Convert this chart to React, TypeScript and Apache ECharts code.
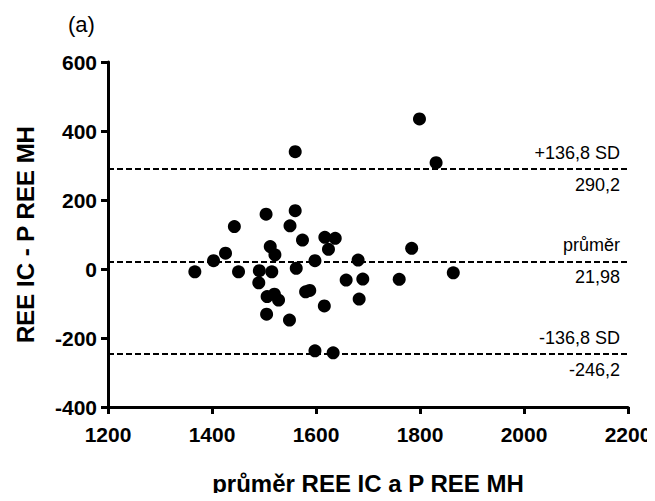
import React, { useEffect, useRef } from "react";
import * as echarts from "echarts";

const meanX: number[] = [
  1367, 1403, 1426, 1443, 1451, 1504, 1560, 1550, 1574, 1512, 1521, 1491, 1515, 1490,
  1562, 1598, 1617, 1637, 1624, 1506, 1520, 1528, 1580, 1588, 1616, 1505, 1549, 1598,
  1633, 1560, 1799, 1831, 1681, 1784, 1864, 1658, 1690, 1760, 1683,
];
const diffY: number[] = [
  -8, 24, 46, 123, -8, 159, 169, 125, 84, 65, 41, -5, -8, -40,
  2, 24, 92, 89, 57, -80, -73, -90, -66, -62, -107, -131, -148, -237,
  -243, 340, 435, 308, 26, 60, -11, -32, -29, -30, -87,
];
const limitValues: number[] = [290.2, 21.98, -246.2];
const limitTopLabels: string[] = ["+136,8 SD", "průměr", "-136,8 SD"];
const limitBottomLabels: string[] = ["290,2", "21,98", "-246,2"];

const FONT = "'Liberation Sans', Arial, sans-serif";

export default function App() {
  const ref = useRef<HTMLDivElement>(null);
  useEffect(() => {
    if (!ref.current) return;
    const chart = echarts.init(ref.current, undefined, { renderer: "svg" });
    const points = meanX.map((x, i) => [x, diffY[i]]);
    const lineStyle = { color: "#000", type: [6, 3] as any, width: 2 };
    const markData: any[] = [];
    limitValues.forEach((v, i) => {
      markData.push({
        yAxis: v,
        lineStyle,
        label: {
          show: true,
          position: "insideEndTop",
          formatter: limitTopLabels[i],
          color: "#000",
          fontSize: 18,
          fontFamily: FONT,
          distance: [8, 7],
        },
      });
      markData.push({
        yAxis: v,
        lineStyle: { color: "rgba(0,0,0,0)", width: 0, type: "solid" },
        label: {
          show: true,
          position: "insideEndBottom",
          formatter: limitBottomLabels[i],
          color: "#000",
          fontSize: 18,
          fontFamily: FONT,
          distance: [8, 7],
        },
      });
    });
    chart.setOption({
      animation: false,
      backgroundColor: "#fff",
      title: {
        text: "(a)",
        left: 63,
        top: 8,
        textStyle: { fontSize: 22, fontWeight: "normal", color: "#000", fontFamily: FONT },
      },
      grid: { left: 108, right: 27, top: 62, bottom: 94 },
      xAxis: {
        type: "value",
        min: 1200,
        max: 2200,
        interval: 200,
        name: "průměr REE IC a P REE MH",
        nameLocation: "middle",
        nameGap: 64,
        nameTextStyle: { fontSize: 24, fontWeight: "bold", color: "#000", fontFamily: FONT },
        axisLine: { show: true, onZero: false, lineStyle: { color: "#000", width: 3 } },
        axisTick: { show: true, length: 7, lineStyle: { color: "#000", width: 3 } },
        axisLabel: {
          fontSize: 21,
          fontWeight: "bold",
          color: "#000",
          margin: 17,
          fontFamily: FONT,
          formatter: (v: number) => String(v),
        },
        splitLine: { show: false },
      },
      yAxis: {
        type: "value",
        min: -400,
        max: 600,
        interval: 200,
        name: "REE IC - P REE MH",
        nameLocation: "middle",
        nameGap: 71,
        nameTextStyle: { fontSize: 24, fontWeight: "bold", color: "#000", fontFamily: FONT },
        axisLine: { show: true, onZero: false, lineStyle: { color: "#000", width: 3 } },
        axisTick: { show: true, length: 7, lineStyle: { color: "#000", width: 3 } },
        axisLabel: {
          fontSize: 21,
          fontWeight: "bold",
          color: "#000",
          margin: 11,
          fontFamily: FONT,
          formatter: (v: number) => String(v),
        },
        splitLine: { show: false },
      },
      series: [
        {
          type: "scatter",
          data: points,
          symbol: "circle",
          symbolSize: 13,
          itemStyle: { color: "#000", opacity: 1 },
          markLine: {
            silent: true,
            symbol: ["none", "none"],
            data: markData,
          },
        },
      ],
    });
    return () => chart.dispose();
  }, []);
  return <div ref={ref} style={{ width: 655, height: 501, margin: -8 }} />;
}
